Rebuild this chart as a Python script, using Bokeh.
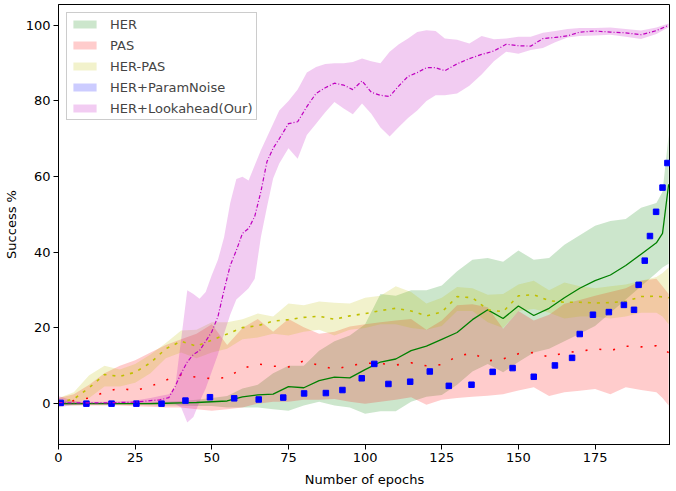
from bokeh.plotting import figure
from bokeh.models import ColumnDataSource, Range1d, FixedTicker, Legend, LegendItem
from bokeh.embed import file_html
from bokeh.resources import INLINE

# ---------------- data ----------------
EPOCHS = [0, 5, 10, 15, 20, 25, 30, 35, 40, 45, 50, 55, 60, 65, 70, 75, 80, 85, 90, 95,
          100, 105, 110, 115, 120, 125, 130, 135, 140, 145, 150, 155, 160, 165, 170, 175,
          180, 185, 190, 195, 197, 199]

her_mean = [0, 0, 0, 0, 0, 0, 0, 0.1, 0.2, 0.3, 0.5, 0.7, 1.8, 2.3, 2.5, 4.5, 4.2, 6.1, 7.0, 6.8,
            9.0, 11.0, 11.8, 14.0, 15.2, 17.0, 18.8, 22.2, 24.8, 22.5, 25.8, 23.3, 25.2, 28.0, 30.5, 32.5,
            34.0, 36.5, 39.5, 42.5, 45.0, 58.0]
her_hi = [1.0, 0.5, 0.3, 0.3, 0.3, 0.3, 0.4, 0.5, 0.7, 1.0, 1.5, 2.0, 4.0, 5.0, 8.0, 10.0, 10.0, 14.0, 16.5, 18.0,
          21.0, 29.0, 28.5, 30.0, 30.0, 31.2, 35.0, 38.0, 38.5, 37.5, 40.5, 38.0, 38.5, 42.0, 44.5, 47.0,
          48.3, 48.8, 51.8, 53.0, 56.0, 71.0]
her_lo = [-0.5, -0.4, -0.3, -0.3, -0.3, -0.3, -0.4, -0.5, -0.5, -0.6, -0.6, -1.0, -1.0, -1.0, -1.5, -1.9, -0.5, 0.5, -0.5, -1.0,
          -2.7, -2.0, -2.0, 0.5, 1.8, 2.3, 5.0, 8.5, 10.5, 8.3, 11.0, 13.5, 14.5, 16.5, 18.5, 20.5,
          24.0, 27.5, 31.0, 34.5, 36.0, 37.0]

pas_mean = [0, 0.8, 1.5, 3.0, 4.1, 3.4, 4.6, 6.2, 7.6, 7.0, 6.6, 6.9, 9.3, 10.5, 9.9, 9.7, 11.3, 10.1, 9.1, 10.0,
            10.7, 10.6, 10.2, 10.8, 10.0, 10.3, 12.5, 13.4, 11.3, 11.8, 13.2, 13.5, 12.3, 13.5, 13.8, 14.5,
            14.0, 15.2, 15.0, 15.3, 14.5, 13.5]
pas_hi = [1.5, 2.5, 5.0, 8.0, 10.0, 11.5, 13.5, 15.5, 17.0, 18.5, 21.0, 15.5, 20.0, 22.4, 19.0, 22.4, 20.2, 18.5, 19.0, 20.4,
          21.0, 21.5, 22.0, 22.4, 19.5, 22.0, 26.0, 26.3, 25.5, 19.8, 24.5, 22.0, 23.5, 26.4, 27.4, 28.5,
          29.5, 30.5, 32.5, 33.0, 31.0, 29.0]
pas_lo = [-0.3, -0.5, -0.5, -0.5, -0.5, -0.7, -0.8, -1.0, -1.0, -1.5, -1.9, -1.5, -1.0, 0.0, 0.5, 0.5, 1.0, 1.0, 1.2, 0.5,
          0.0, 0.5, 1.0, 1.7, -0.3, 1.0, 1.5, 1.8, 2.1, 2.5, 3.5, 4.3, 2.0, 3.0, 3.4, 3.9,
          2.5, 4.3, 3.6, 3.0, 1.5, -0.5]

herpas_mean = [0.3, 1.2, 4.2, 7.7, 7.2, 8.3, 10.8, 14.5, 16.5, 15.2, 16.8, 18.4, 20.1, 20.6, 21.8, 22.2, 22.8, 23.1, 22.3, 23.2,
               23.8, 24.6, 25.2, 24.5, 23.2, 24.2, 28.3, 28.0, 24.8, 24.3, 28.5, 28.8, 27.2, 26.8, 26.8, 26.6,
               26.7, 27.0, 28.3, 28.4, 28.2, 28.0]
herpas_hi = [1.5, 3.0, 7.5, 10.0, 9.0, 10.5, 13.0, 16.0, 19.3, 19.5, 21.5, 21.5, 22.3, 23.8, 23.0, 26.5, 26.0, 27.0, 26.7, 26.5,
             28.0, 28.5, 31.0, 29.5, 26.5, 28.0, 30.8, 30.5, 28.8, 29.0, 31.5, 32.5, 30.0, 32.0, 31.0, 30.5,
             31.0, 31.5, 32.5, 33.5, 34.5, 36.0]
herpas_lo = [-0.5, 0.0, 1.5, 4.5, 4.5, 5.5, 8.0, 12.0, 13.5, 12.0, 13.5, 14.5, 17.0, 17.5, 18.5, 18.0, 19.0, 19.5, 18.0, 19.5,
             20.0, 21.0, 21.0, 20.0, 19.5, 20.5, 24.5, 24.5, 21.5, 20.0, 24.5, 25.0, 24.0, 22.5, 23.0, 23.0,
             22.5, 23.0, 24.0, 24.0, 23.0, 21.0]

PN_EPOCHS = [0.7, 9.1, 17.3, 25.4, 33.6, 41.4, 49.4, 57.3, 65.3, 73.3, 80.1, 87.2, 92.6, 98.9, 103.0, 107.6,
             114.7, 121.1, 127.3, 134.7, 141.6, 148.1, 155.0, 161.9, 167.5, 170.0, 174.3, 179.5, 184.4,
             187.7, 189.2, 191.2, 192.9, 194.9, 197.0, 198.6]
pn_mean = [0.2, 0.0, 0.0, 0.0, 0.0, 0.8, 1.7, 1.4, 1.1, 1.6, 2.7, 2.8, 3.6, 6.7, 10.5, 5.2,
           5.8, 8.5, 4.7, 5.0, 8.4, 9.4, 7.1, 10.1, 12.1, 18.4, 23.5, 24.2, 26.1,
           24.8, 31.4, 37.8, 44.3, 50.7, 57.1, 63.6]

LA_EPOCHS = [0, 5, 10, 15, 20, 25, 30, 33, 36, 38, 40, 42, 44, 46, 48, 50, 52, 54, 56, 58, 60, 62,
             64, 66, 68, 70, 72, 75, 78, 81, 84, 87, 90, 93, 96, 99, 102, 105, 108, 111, 114, 117,
             120, 123, 126, 130, 134, 138, 142, 146, 150, 154, 158, 162, 166, 170, 175, 180, 185,
             190, 195, 199]
la_mean = [0.3, 0.2, 0.2, 0.2, 0.3, 0.4, 0.8, 1.0, 1.6, 4.5, 8.0, 11.0, 13.0, 14.0, 16.5, 19.0, 23.0, 30.0, 36.5, 40.5, 45.0, 46.3,
           49.5, 56.0, 64.0, 67.5, 70.0, 74.0, 74.5, 78.5, 82.0, 83.5, 84.7, 84.2, 83.0, 85.3, 82.3, 81.5, 81.2, 84.0, 86.5, 87.5,
           88.8, 88.8, 88.0, 89.8, 91.2, 92.3, 93.2, 95.0, 94.6, 94.5, 96.5, 96.8, 97.2, 98.2, 98.5, 98.2, 98.0,
           97.5, 98.6, 100.0]
la_hi = [2.0, 0.7, 0.5, 0.5, 0.6, 0.8, 1.5, 2.0, 2.5, 4.0, 17.0, 30.0, 29.0, 27.7, 29.5, 34.0, 38.0, 44.0, 53.0, 59.4, 60.0, 59.0,
         63.0, 67.0, 70.5, 74.0, 77.5, 80.0, 83.0, 87.5, 89.0, 89.8, 90.0, 90.0, 90.3, 91.2, 90.5, 90.0, 93.0, 95.0, 96.5, 98.2,
         98.7, 98.5, 96.5, 96.2, 95.2, 97.2, 96.3, 96.5, 97.0, 97.0, 98.0, 98.5, 99.0, 99.3, 99.3, 99.4, 99.0,
         98.6, 99.4, 100.5]
la_lo = [-1.0, -0.3, -0.1, -0.1, 0.0, 0.0, 0.1, 0.2, 0.3, 0.0, -1.0, -5.0, -3.5, 0.5, 4.0, 8.5, 13.0, 18.5, 23.5, 27.5, 29.0, 30.5,
         33.0, 44.0, 52.0, 59.5, 63.5, 67.5, 64.7, 71.0, 74.0, 77.0, 79.7, 78.0, 76.5, 79.3, 76.6, 73.0, 70.6, 73.1, 75.5, 77.5,
         80.0, 81.5, 81.5, 82.0, 84.0, 87.0, 90.5, 93.0, 92.5, 93.5, 94.0, 95.5, 96.8, 97.2, 97.3, 97.5, 97.0,
         96.4, 97.7, 99.5]

X_TICKS = [0, 25, 50, 75, 100, 125, 150, 175]
Y_TICKS = [0, 20, 40, 60, 80, 100]
LABELS = ["HER", "PAS", "HER-PAS", "HER+ParamNoise", "HER+Lookahead(Our)"]

GREEN, RED, YEL, BLUE, MAG = "#008000", "#ff0000", "#bfbf00", "#0000ff", "#bf00bf"
FONT = "DejaVu Sans"

# ---------------- figure ----------------
p = figure(frame_width=612, frame_height=440, output_backend="svg", toolbar_location=None,
           x_range=Range1d(0, 199.6), y_range=Range1d(-10.8, 105.5),
           min_border_left=47, min_border_right=0, min_border_top=4, min_border_bottom=0)
p.background_fill_color = "white"
p.border_fill_color = "white"
p.outline_line_color = "black"
p.outline_line_width = 1
p.xgrid.grid_line_color = None
p.ygrid.grid_line_color = None

s_main = ColumnDataSource(dict(x=EPOCHS, her_m=her_mean, her_hi=her_hi, her_lo=her_lo,
                               pas_m=pas_mean, pas_hi=pas_hi, pas_lo=pas_lo,
                               hp_m=herpas_mean, hp_hi=herpas_hi, hp_lo=herpas_lo))
s_pn = ColumnDataSource(dict(x=PN_EPOCHS, y=pn_mean))
s_la = ColumnDataSource(dict(x=LA_EPOCHS, m=la_mean, hi=la_hi, lo=la_lo))

r_her = p.varea(x="x", y1="her_lo", y2="her_hi", source=s_main, fill_color=GREEN, fill_alpha=0.2)
r_pas = p.varea(x="x", y1="pas_lo", y2="pas_hi", source=s_main, fill_color=RED, fill_alpha=0.2)
r_hp = p.varea(x="x", y1="hp_lo", y2="hp_hi", source=s_main, fill_color=YEL, fill_alpha=0.2)
r_pn = p.varea(x="x", y1="y", y2="y", source=s_pn, fill_color=BLUE, fill_alpha=0.2)
r_la = p.varea(x="x", y1="lo", y2="hi", source=s_la, fill_color=MAG, fill_alpha=0.2)

p.line(x="x", y="her_m", source=s_main, line_color=GREEN, line_width=1.3)
p.line(x="x", y="pas_m", source=s_main, line_color=RED, line_width=1.6, line_dash="2 12")
p.line(x="x", y="hp_m", source=s_main, line_color=YEL, line_width=1.6, line_dash="3 6")
p.scatter(x="x", y="y", source=s_pn, marker="square", size=5.5, fill_color=BLUE, line_color=BLUE)
p.line(x="x", y="m", source=s_la, line_color=MAG, line_width=1.2, line_dash="4 2 1 2")

# axes
for ax in (p.xaxis[0], p.yaxis[0]):
    ax.major_label_text_font = FONT
    ax.major_label_text_font_size = "13px"
    ax.major_label_text_color = "black"
    ax.axis_label_text_font = FONT
    ax.axis_label_text_font_size = "13px"
    ax.axis_label_text_font_style = "normal"
    ax.axis_label_text_color = "black"
    ax.major_tick_out = 5
    ax.major_tick_in = 0
    ax.minor_tick_line_color = None
    ax.axis_line_color = "black"
    ax.major_tick_line_color = "black"
    ax.major_label_standoff = 3
p.xaxis.axis_label_standoff = 7
p.yaxis.axis_label_standoff = 4
p.xaxis.ticker = FixedTicker(ticks=X_TICKS)
p.yaxis.ticker = FixedTicker(ticks=Y_TICKS)
p.xaxis.axis_label = "Number of epochs"
p.yaxis.axis_label = "Success %"

legend = Legend(items=[LegendItem(label=LABELS[0], renderers=[r_her]),
                       LegendItem(label=LABELS[1], renderers=[r_pas]),
                       LegendItem(label=LABELS[2], renderers=[r_hp]),
                       LegendItem(label=LABELS[3], renderers=[r_pn]),
                       LegendItem(label=LABELS[4], renderers=[r_la])],
                location="top_left")
legend.margin = 8
legend.padding = 3
legend.spacing = 5
legend.glyph_width = 29
legend.glyph_height = 10
legend.label_height = 16
legend.label_standoff = 11
legend.label_text_font = FONT
legend.label_text_font_size = "13px"
legend.border_line_color = "#cccccc"
legend.border_line_alpha = 1
legend.background_fill_alpha = 0.8
p.add_layout(legend)

open("out.html", "w").write(file_html(p, INLINE))
